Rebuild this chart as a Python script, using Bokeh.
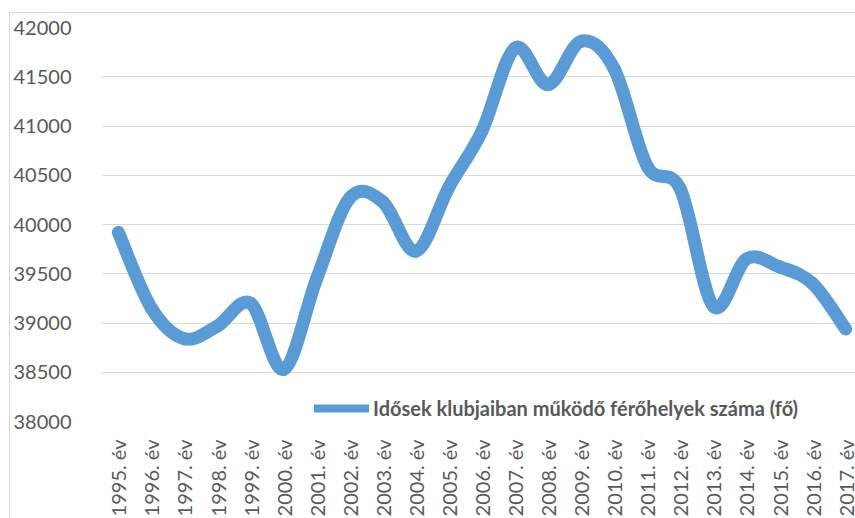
import numpy as np
from bokeh.plotting import figure
from bokeh.models import FixedTicker, Legend, LegendItem, Range1d, ColumnDataSource
from bokeh.embed import file_html
from bokeh.resources import INLINE

# ---- data -------------------------------------------------------------
year_labels = ["1995. év", "1996. év", "1997. év", "1998. év", "1999. év",
               "2000. év", "2001. év", "2002. év", "2003. év", "2004. év",
               "2005. év", "2006. év", "2007. év", "2008. év", "2009. év",
               "2010. év", "2011. év", "2012. év", "2013. év", "2014. év",
               "2015. év", "2016. év", "2017. év"]
places = [39920, 39150, 38840, 38970, 39200,
          38530, 39450, 40270, 40230, 39730,
          40380, 40950, 41790, 41420, 41860,
          41580, 40590, 40360, 39170, 39650,
          39570, 39400, 38940]
series_name = "Idősek klubjaiban működő férőhelyek száma (fő)"
y_ticks = [38000, 38500, 39000, 39500, 40000, 40500, 41000, 41500, 42000]

# ---- smoothed (Excel-like) curve as cubic Bezier segments -------------
xs = np.arange(len(places), dtype=float)
ys = np.array(places, dtype=float)
n = len(xs)
xp = np.concatenate([[xs[0]], xs, [xs[-1]]])
yp = np.concatenate([[ys[0]], ys, [ys[-1]]])
seg = dict(x0=[], y0=[], x1=[], y1=[], cx0=[], cy0=[], cx1=[], cy1=[])
for i in range(n - 1):
    seg["x0"].append(xp[i + 1]); seg["y0"].append(yp[i + 1])
    seg["x1"].append(xp[i + 2]); seg["y1"].append(yp[i + 2])
    seg["cx0"].append(xp[i + 1] + (xp[i + 2] - xp[i]) / 6.0)
    seg["cy0"].append(yp[i + 1] + (yp[i + 2] - yp[i]) / 6.0)
    seg["cx1"].append(xp[i + 2] - (xp[i + 3] - xp[i + 1]) / 6.0)
    seg["cy1"].append(yp[i + 2] - (yp[i + 3] - yp[i + 1]) / 6.0)
src = ColumnDataSource(seg)

LINE = "#5B9BD5"
TXT = "#595959"
GRID = "#d9d9d9"

p = figure(frame_width=759, frame_height=394,
           x_range=Range1d(-0.51, 22.45), y_range=Range1d(38000, 42000),
           output_backend="svg", toolbar_location=None,
           min_border_left=86, min_border_right=0,
           min_border_top=14, min_border_bottom=90,
           margin=(12, 0, 0, 9))
p.styles = {"border-top": f"1px solid {GRID}", "border-left": f"1px solid {GRID}"}
p.outline_line_color = None
p.background_fill_color = "white"
p.border_fill_color = "white"

p.xgrid.visible = False
p.ygrid.ticker = FixedTicker(ticks=y_ticks)
p.ygrid.grid_line_color = GRID
p.ygrid.grid_line_width = 1

yax = p.yaxis[0]
yax.ticker = FixedTicker(ticks=y_ticks)
yax.axis_line_color = None
yax.major_tick_line_color = None
yax.minor_tick_line_color = None
yax.major_label_standoff = 24
yax.major_label_text_font = "Lato"
yax.major_label_text_font_size = "20px"
yax.major_label_text_color = TXT

xax = p.xaxis[0]
xax.ticker = FixedTicker(ticks=list(range(len(year_labels))))
xax.major_label_overrides = {i: lab for i, lab in enumerate(year_labels)}
xax.major_label_orientation = np.pi / 2
xax.axis_line_color = None
xax.major_tick_line_color = None
xax.minor_tick_line_color = None
xax.major_label_standoff = 12
xax.major_label_text_font = "Lato"
xax.major_label_text_font_size = "20px"
xax.major_label_text_color = TXT

p.bezier(x0="x0", y0="y0", x1="x1", y1="y1", cx0="cx0", cy0="cy0",
         cx1="cx1", cy1="cy1", source=src,
         line_color=LINE, line_width=13, line_cap="round")

# legend swatch (invisible NaN point, only for the legend)
dummy = p.line(x=[np.nan, np.nan], y=[np.nan, np.nan],
               line_color=LINE, line_width=8, line_cap="round")
legend = Legend(items=[LegendItem(label=series_name, renderers=[dummy])],
                location=(213, 1), orientation="horizontal",
                glyph_width=55, glyph_height=20, label_standoff=4,
                padding=0, margin=0, spacing=0,
                border_line_color=None, background_fill_alpha=0,
                label_text_font="Lato", label_text_font_style="bold",
                label_text_font_size="20px", label_text_color=TXT)
p.add_layout(legend)

open("out.html", "w").write(file_html(p, INLINE))
